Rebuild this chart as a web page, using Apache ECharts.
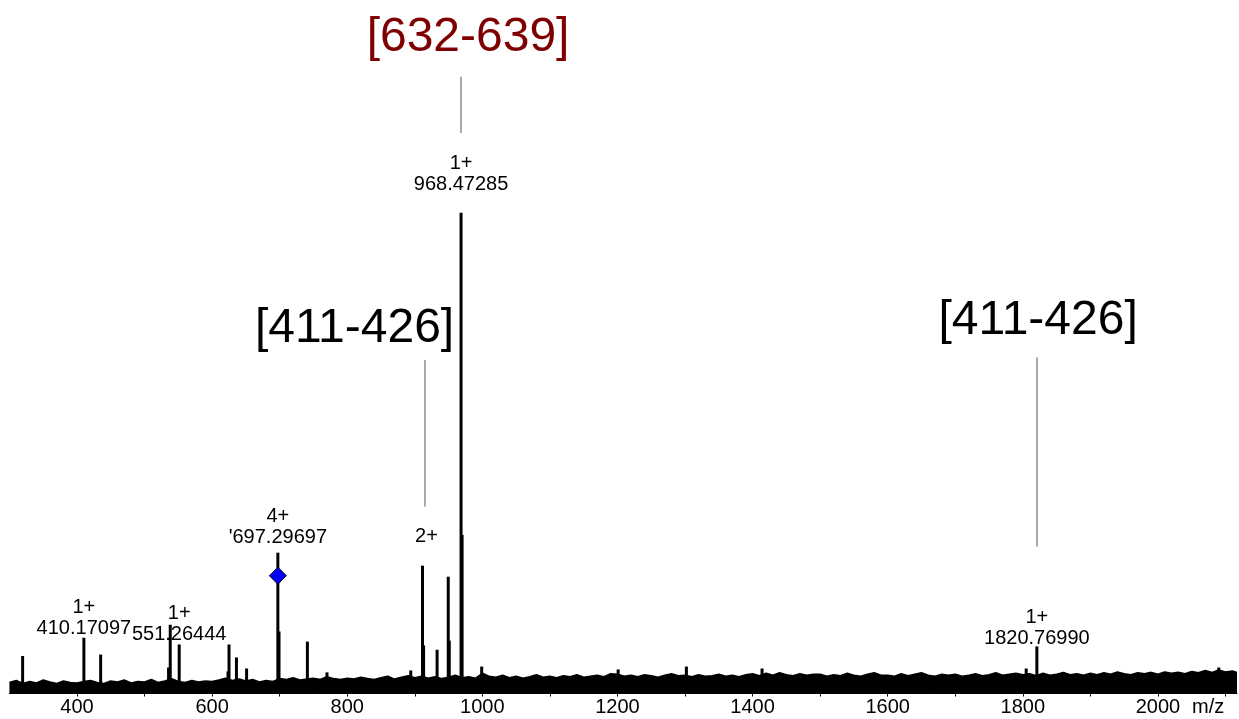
<!DOCTYPE html>
<html>
<head>
<meta charset="utf-8">
<script src="https://cdn.jsdelivr.net/npm/echarts@6/dist/echarts.min.js"></script>
<style>
html,body{margin:0;padding:0;background:#fff;}
#c{width:1239px;height:719px;}
</style>
</head>
<body>
<div id="c"></div>
<script>
// ---- data (m/z, relative intensity %) ----
const peakMz  = [319.5, 410.17, 435, 535.5, 538, 551.26, 623.5, 625, 636, 651, 697.30, 699.0, 741, 770, 894, 911.4, 913.0, 933, 949.5, 951.0, 968.47, 970.0, 999, 1201, 1302, 1414, 1805, 1820.77, 2090];
const peakInt = [7.8, 11.6, 8.1, 5.4, 14.3, 10.2, 4.6, 10.2, 7.5, 5.2, 29.3, 12.9, 10.8, 4.4, 4.8, 26.6, 10.0, 9.1, 24.3, 11.0, 100, 33.0, 5.6, 5.0, 5.6, 5.2, 5.2, 9.8, 5.4];
const peakLabel = ['', '1+\n410.17097', '', '', '', '1+\n551.26444', '', '', '', '', "4+\n'697.29697", '', '', '', '', '2+', '', '', '', '', '1+\n968.47285', '', '', '', '', '', '', '1+\n1820.76990', ''];

// baseline noise envelope (every 10 m/z from 300)
const noiseStart = 300, noiseStep = 10;
const noiseInt = [
  2.3,2.7,2.1,2.5,2.2,2.8,2.4,2.1,2.6,2.3,
  2.2,2.5,2.7,2.3,2.1,2.6,2.4,2.8,2.2,2.5,
  2.4,2.9,2.3,2.6,3.1,2.5,2.3,2.7,2.4,2.6,
  2.5,2.8,3.2,2.7,3.0,2.6,2.9,2.4,2.7,2.5,
  3.1,2.9,3.3,2.8,3.0,3.2,2.9,3.5,3.1,2.9,
  3.2,3.0,3.4,3.1,2.9,3.3,3.6,3.0,3.4,3.7,
  3.3,3.6,3.2,3.5,3.1,3.4,3.8,3.3,3.5,3.2,
  4.2,3.6,3.4,3.8,3.3,3.6,3.2,3.5,3.9,3.4,
  3.6,3.3,3.7,3.5,3.9,3.4,3.6,3.8,3.5,4.1,
  4.0,3.6,3.8,3.5,3.9,3.7,3.4,3.8,4.1,3.7,
  3.8,3.5,3.9,3.6,3.7,4.0,3.6,3.8,3.5,3.9,
  4.1,3.7,4.2,3.8,4.3,3.9,3.7,4.1,3.8,4.0,
  4.0,3.6,3.9,3.7,4.2,3.8,3.6,4.0,4.3,3.8,
  3.8,3.6,4.1,3.7,4.0,4.3,3.8,3.6,4.0,3.8,
  4.0,3.6,3.8,4.1,3.7,3.9,4.3,3.8,4.0,4.2,
  3.9,4.1,3.7,4.2,3.8,4.0,4.4,3.9,4.1,3.8,
  4.2,3.9,4.3,4.0,4.5,4.1,3.9,4.3,4.1,4.4,
  4.0,4.5,4.2,4.4,4.1,4.6,4.3,4.8,4.4,4.9,
  4.5,4.7,4.4];

// diamond marker (precursor)
const markerMz = [697.30];
const markerInt = [24.5];

// fragment annotations
const annoText = ['[632-639]', '[411-426]', '[411-426]'];
const annoTextMz = [978.8, 810.8, 1822.6];
const annoTextInt = [136.4, 75.9, 77.5];
const annoLineMz = [968.47, 915.2, 1821.2];
const annoLineFrom = [116.6, 38.9, 30.6];
const annoLineTo = [128.3, 69.4, 69.9];

const xTicks = [400, 600, 800, 1000, 1200, 1400, 1600, 1800, 2000];

// ---- styles ----
const FONT = 'Liberation Sans, Arial, sans-serif';
const labelGapByMz = {410.17: -1, 551.26: -1, 697.30: 5, 911.4: 19, 968.47: 18, 1820.77: -3};
const labelShiftByMz = {911.4: [4, 0]};
const annoColor = ['#7f0000', '#000000', '#000000'];

const noiseData = noiseInt.map((v, i) => [Math.min(noiseStart + i * noiseStep, 2117), v]);
const barData = peakMz.map((m, i) => {
  const item = {value: [m, peakInt[i]]};
  if (peakLabel[i]) {
    item.label = {show: true, position: 'top', formatter: peakLabel[i],
      distance: labelGapByMz[m] !== undefined ? labelGapByMz[m] : 2,
      offset: labelShiftByMz[m] || [0, 0],
      fontFamily: FONT, fontSize: 20, lineHeight: 21, color: '#000'};
  }
  return item;
});

const chart = echarts.init(document.getElementById('c'), null, {renderer: 'canvas'});
chart.setOption({
  animation: false,
  backgroundColor: '#ffffff',
  grid: {left: 9.45, right: 2, top: 0, bottom: 25.5, containLabel: false},
  xAxis: {
    type: 'value', min: 300, max: 2117, interval: 100,
    axisLine: {show: true, lineStyle: {color: '#000', width: 1}},
    axisTick: {show: true, length: 3, lineStyle: {color: '#000'}},
    splitLine: {show: false},
    axisLabel: {
      show: true, margin: 4, fontFamily: FONT, fontSize: 20, color: '#000',
      showMaxLabel: false, showMinLabel: false,
      formatter: v => xTicks.indexOf(v) >= 0 ? String(v) : ''
    }
  },
  yAxis: {type: 'value', min: 0, max: 144.28, show: false, splitLine: {show: false}},
  graphic: [{
    type: 'text', left: 1192, top: 697,
    style: {text: 'm/z', font: '20px ' + FONT, fill: '#000'}
  }],
  series: [
    {
      type: 'line', data: noiseData, symbol: 'none', z: 2,
      lineStyle: {color: '#000', width: 1.5},
      areaStyle: {color: '#000', opacity: 1}
    },
    {
      type: 'bar', data: barData, barWidth: 3, z: 3,
      itemStyle: {color: '#000'}, barGap: '-100%'
    },
    {
      type: 'scatter', data: markerMz.map((m, i) => [m, markerInt[i]]), z: 5,
      symbol: 'diamond', symbolSize: [17, 17],
      itemStyle: {color: '#0000ff', borderColor: '#000', borderWidth: 1, opacity: 1}
    },
    {
      type: 'scatter', z: 4, symbolSize: 0,
      itemStyle: {opacity: 1},
      data: annoText.map((t, i) => ({
        value: [annoTextMz[i], annoTextInt[i]],
        label: {show: true, position: 'inside', formatter: t,
          fontFamily: FONT, fontSize: 48, color: annoColor[i], opacity: 1}
      })),
      markLine: {
        silent: true, symbol: ['none', 'none'], label: {show: false},
        lineStyle: {color: '#8a8a8a', width: 1.5, type: 'solid', opacity: 1},
        data: annoLineMz.map((m, i) => [{coord: [m, annoLineFrom[i]]}, {coord: [m, annoLineTo[i]]}])
      }
    }
  ]
});
</script>
</body>
</html>
